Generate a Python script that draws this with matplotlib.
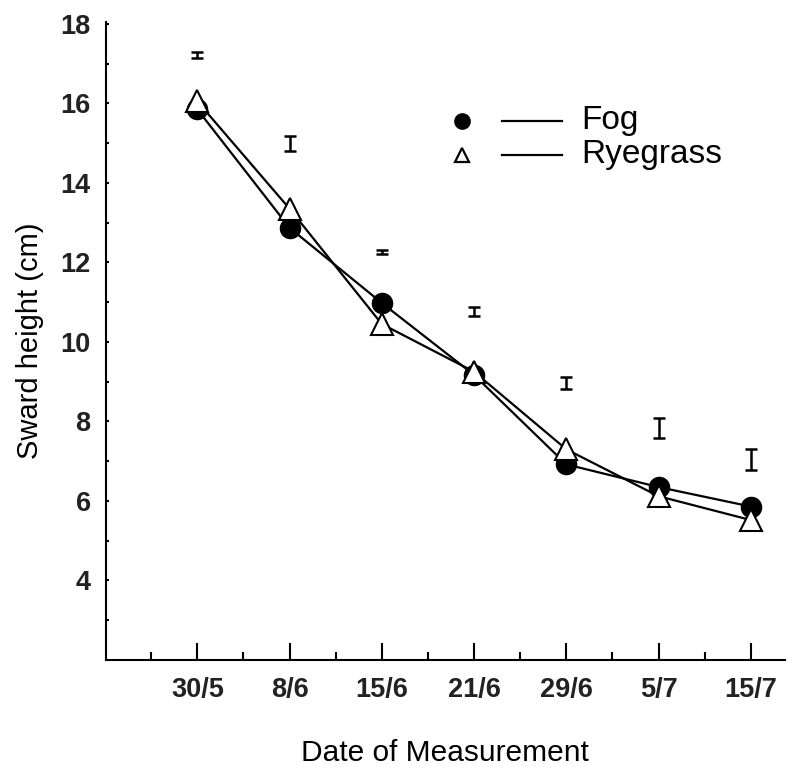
import matplotlib
matplotlib.use("Agg")
import matplotlib.pyplot as plt
import numpy as np

plt.rcParams['font.family'] = ['Liberation Sans', 'DejaVu Sans']

# measurement dates and mean sward heights (cm)
dates = ["30/5", "8/6", "15/6", "21/6", "29/6", "5/7", "15/7"]
fog = [15.85, 12.87, 10.98, 9.17, 6.92, 6.35, 5.86]
ryegrass = [16.05, 13.35, 10.45, 9.25, 7.3, 6.12, 5.52]

# SED bars drawn above each date
sed_centre = [17.22, 14.99, 12.26, 10.77, 8.97, 7.84, 7.04]
sed_half = [0.08, 0.19, 0.05, 0.12, 0.16, 0.25, 0.26]

x = np.arange(1, len(dates) + 1)

fig = plt.figure(figsize=(7.94, 7.67), dpi=100)
ax = fig.add_axes([0.1335, 0.1395, 0.855, 0.832])

ax.plot(x, fog, color="black", lw=1.6, marker="o", ms=14.5,
        mfc="black", mec="black", zorder=3)
ax.plot(x, ryegrass, color="black", lw=1.6, marker="^", ms=16,
        mfc="white", mec="black", mew=1.5, zorder=4)

ax.errorbar(x, sed_centre, yerr=sed_half, fmt="none", ecolor="black",
            elinewidth=1.8, capsize=4, capthick=1.8)

ax.set_xlim(0.01, 7.37)
ax.set_ylim(2, 18.05)

ax.set_xticks(x)
ax.set_xticklabels(dates, fontsize=19.5, fontweight="bold", color="#222222")
ax.set_xticks(x - 0.5, minor=True)
ax.set_yticks(np.arange(4, 19, 2))
ax.set_yticklabels([str(v) for v in range(4, 19, 2)], fontsize=19.5,
                   fontweight="bold", color="#222222")
ax.set_yticks(np.arange(3, 18, 2), minor=True)

ax.tick_params(axis="x", which="major", direction="in", length=12, width=1.5, pad=12)
ax.tick_params(axis="x", which="minor", direction="in", length=6, width=1.5)
ax.tick_params(axis="y", which="both", direction="in", length=2.5, width=1.5, pad=11)

for side in ["top", "right"]:
    ax.spines[side].set_visible(False)
for side in ["left", "bottom"]:
    ax.spines[side].set_linewidth(1.5)

ax.set_xlabel("Date of Measurement", fontsize=21.5, labelpad=26)
ax.set_ylabel("Sward height (cm)", fontsize=21, labelpad=12)

# key
ax.plot([0.524], [0.845], transform=ax.transAxes, marker="o", ms=11,
        color="black", clip_on=False)
ax.plot([0.524], [0.792], transform=ax.transAxes, marker="^", ms=10,
        mfc="white", mec="black", mew=1.6, clip_on=False)
for yy, name in [(0.845, "Fog"), (0.792, "Ryegrass")]:
    ax.plot([0.583, 0.672], [yy, yy], transform=ax.transAxes,
            color="black", lw=1.6)
    ax.text(0.70, yy, name, transform=ax.transAxes, fontsize=24,
            va="center", ha="left")

fig.savefig("out.png", dpi=100)
